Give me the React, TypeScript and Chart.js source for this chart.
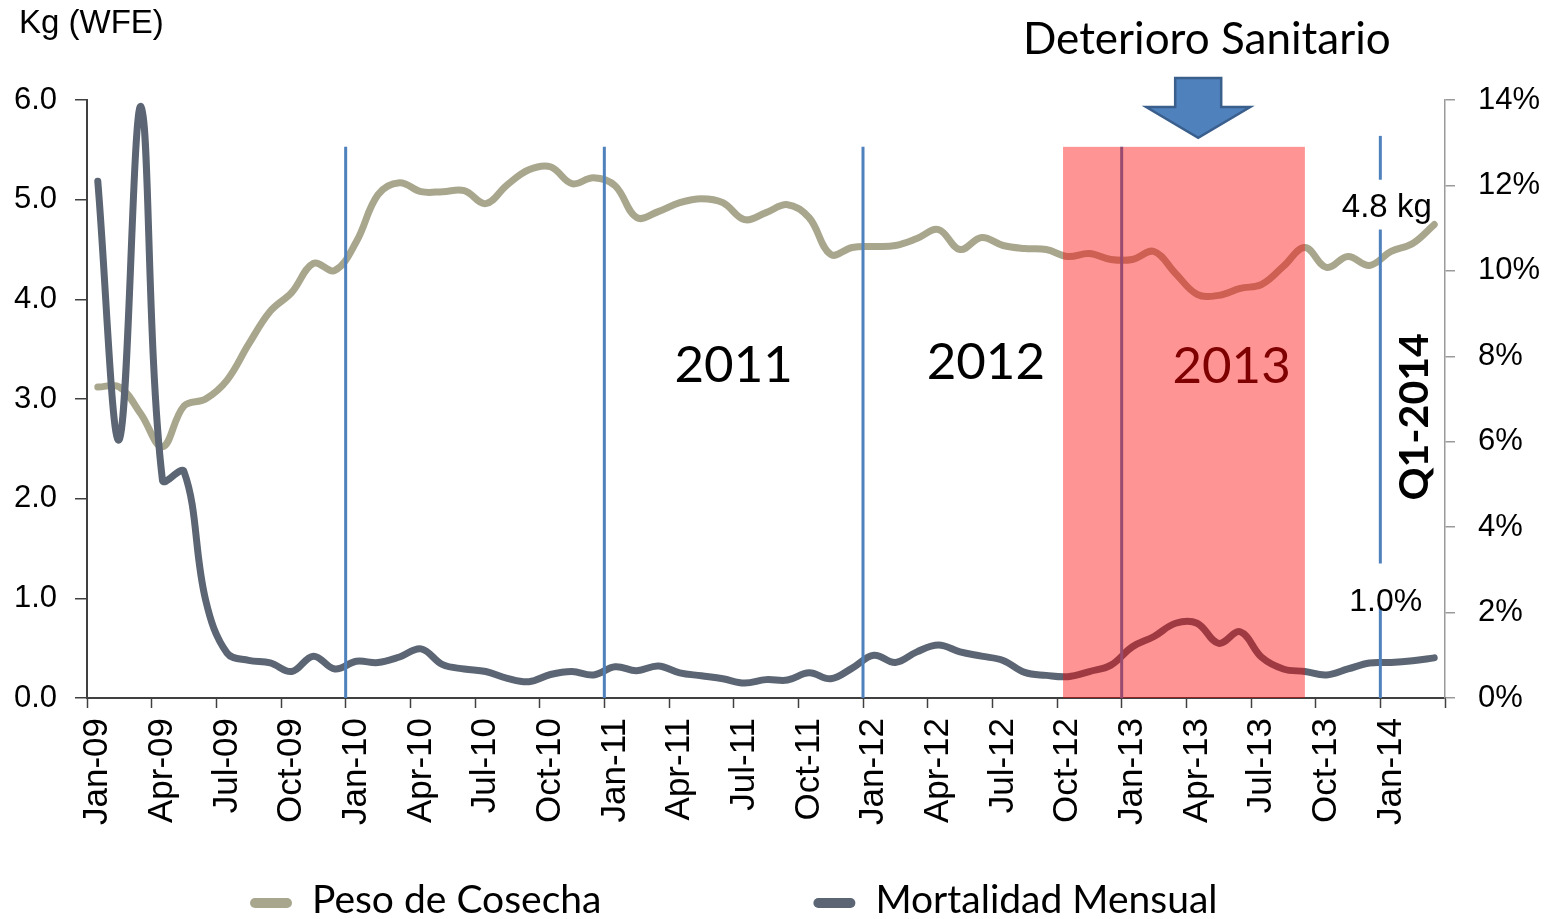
import React, { useEffect, useRef } from 'react';
import { Chart, registerables } from 'chart.js';

Chart.register(...registerables);

// ---------- data ----------
const months = [
  'Jan-09', 'Feb-09', 'Mar-09', 'Apr-09', 'May-09', 'Jun-09', 'Jul-09', 'Aug-09', 'Sep-09', 'Oct-09', 'Nov-09', 'Dec-09',
  'Jan-10', 'Feb-10', 'Mar-10', 'Apr-10', 'May-10', 'Jun-10', 'Jul-10', 'Aug-10', 'Sep-10', 'Oct-10', 'Nov-10', 'Dec-10',
  'Jan-11', 'Feb-11', 'Mar-11', 'Apr-11', 'May-11', 'Jun-11', 'Jul-11', 'Aug-11', 'Sep-11', 'Oct-11', 'Nov-11', 'Dec-11',
  'Jan-12', 'Feb-12', 'Mar-12', 'Apr-12', 'May-12', 'Jun-12', 'Jul-12', 'Aug-12', 'Sep-12', 'Oct-12', 'Nov-12', 'Dec-12',
  'Jan-13', 'Feb-13', 'Mar-13', 'Apr-13', 'May-13', 'Jun-13', 'Jul-13', 'Aug-13', 'Sep-13', 'Oct-13', 'Nov-13', 'Dec-13',
  'Jan-14', 'Feb-14', 'Mar-14',
];

// Peso de Cosecha, kg (WFE), left axis
const pesoCosecha = [
  3.12, 3.12, 2.85, 2.52, 2.93, 3.0, 3.19, 3.55, 3.88, 4.07,
  4.36, 4.29, 4.58, 5.05, 5.17, 5.08, 5.08, 5.09, 4.96, 5.15,
  5.3, 5.33, 5.16, 5.22, 5.14, 4.82, 4.88, 4.97, 5.01, 4.97,
  4.8, 4.87, 4.95, 4.82, 4.45, 4.52, 4.53, 4.54, 4.61, 4.7,
  4.5, 4.62, 4.54, 4.51, 4.5, 4.43, 4.46, 4.4, 4.4, 4.48,
  4.26, 4.05, 4.04, 4.11, 4.15, 4.33, 4.52, 4.32, 4.43, 4.34,
  4.48, 4.56, 4.75,
];

// Mortalidad Mensual, %, right axis
const mortalidadMensual = [
  12.1, 6.05, 13.85, 5.1, 5.3, 2.3, 1.05, 0.88, 0.82, 0.62,
  0.98, 0.68, 0.86, 0.83, 0.96, 1.15, 0.78, 0.68, 0.62, 0.46,
  0.38, 0.55, 0.62, 0.54, 0.73, 0.64, 0.75, 0.59, 0.52, 0.45,
  0.35, 0.43, 0.42, 0.59, 0.45, 0.7, 1.0, 0.83, 1.08, 1.24,
  1.08, 0.98, 0.88, 0.6, 0.53, 0.5, 0.62, 0.77, 1.2, 1.44,
  1.75, 1.75, 1.28, 1.55, 0.95, 0.68, 0.62, 0.54, 0.68, 0.82,
  0.83, 0.87, 0.94,
];

const leftTicks = [0, 1, 2, 3, 4, 5, 6];
const rightTicks = [0, 2, 4, 6, 8, 10, 12, 14];
const yearDividers = ['Jan-10', 'Jan-11', 'Jan-12', 'Jan-13'];
const q1Divider = 'Jan-14';
const yearLabels = ['2011', '2012', '2013'];
const seriesNames = ['Peso de Cosecha', 'Mortalidad Mensual'];
const lastPesoLabel = '4.8 kg';
const lastMortLabel = '1.0%';

// ---------- styles ----------
const TAN = '#A9A68E';
const DARK = '#5B6573';
const BLUE = '#4F81BD';
const ARIAL = '"Liberation Sans", Arial, sans-serif';
const CAL = 'Lato, "Open Sans", sans-serif';

export default function App() {
  const ref = useRef<HTMLCanvasElement>(null);

  useEffect(() => {
    const canvas = ref.current;
    if (!canvas) return;

    const overlay = {
      id: 'overlay',
      afterDatasetsDraw(chart: any) {
        const { ctx } = chart;
        const x = chart.scales.x;
        const y = chart.scales.y;
        const y1 = chart.scales.y1;
        const px = (v: number) => x.getPixelForValue(v);
        const bottom = y.getPixelForValue(0);
        const top = y.getPixelForValue(5.53);
        ctx.save();

        // year dividers
        ctx.strokeStyle = BLUE;
        ctx.lineWidth = 3;
        yearDividers.forEach((m) => {
          const xp = px(months.indexOf(m) - 0.5);
          ctx.beginPath();
          ctx.moveTo(xp, top);
          ctx.lineTo(xp, bottom);
          ctx.stroke();
        });
        // Q1-2014 divider (broken around its labels)
        const xq = px(months.indexOf(q1Divider) - 0.5);
        const segs: [number, number][] = [[5.64, 5.2], [4.7, 1.35], [0.92, 0]];
        segs.forEach(([a, b]) => {
          ctx.beginPath();
          ctx.moveTo(xq, y.getPixelForValue(a));
          ctx.lineTo(xq, y.getPixelForValue(b));
          ctx.stroke();
        });

        // "Deterioro Sanitario" shaded period
        ctx.fillStyle = 'rgba(255,0,0,0.42)';
        const l = px(44.78);
        const r = px(56.0);
        ctx.fillRect(l, top, r - l, bottom - top);

        // year labels
        ctx.textAlign = 'center';
        ctx.textBaseline = 'middle';
        ctx.font = `51px ${CAL}`;
        const yearPos: [number, number, string][] = [[29.5, 3.34, '#000'], [41.2, 3.37, '#000'], [52.6, 3.33, '#7F0000']];
        yearLabels.forEach((t, i) => {
          const [xv, yv, c] = yearPos[i];
          ctx.fillStyle = c;
          ctx.fillText(t, px(xv), y.getPixelForValue(yv));
        });

        // Q1-2014 rotated
        ctx.save();
        ctx.translate(px(61.1), y.getPixelForValue(2.82));
        ctx.rotate(-Math.PI / 2);
        ctx.font = `bold 41px ${CAL}`;
        ctx.fillStyle = '#000';
        ctx.fillText('Q1-2014', 0, 0);
        ctx.restore();

        // last-value labels
        ctx.fillStyle = '#000';
        ctx.font = `33px ${ARIAL}`;
        ctx.fillText(lastPesoLabel, px(59.8), y.getPixelForValue(4.92));
        ctx.font = `32px ${ARIAL}`;
        ctx.fillText(lastMortLabel, px(59.75), y1.getPixelForValue(2.25));
        ctx.restore();
      },
      afterDraw(chart: any) {
        const { ctx } = chart;
        const x = chart.scales.x;
        const y = chart.scales.y;
        ctx.save();

        // axis unit label
        ctx.font = `33px ${ARIAL}`;
        ctx.fillStyle = '#000';
        ctx.textAlign = 'left';
        ctx.textBaseline = 'middle';
        ctx.fillText('Kg (WFE)', 19, 24);

        // Deterioro Sanitario + arrow
        const ax = x.getPixelForValue(51.05);
        ctx.font = `44px ${CAL}`;
        ctx.textAlign = 'center';
        ctx.fillText('Deterioro Sanitario', x.getPixelForValue(51.45), 40);
        const sTop = y.getPixelForValue(6.22);
        const hTop = y.getPixelForValue(5.93);
        const tip = y.getPixelForValue(5.62);
        ctx.beginPath();
        ctx.moveTo(ax - 23, sTop);
        ctx.lineTo(ax + 23, sTop);
        ctx.lineTo(ax + 23, hTop);
        ctx.lineTo(ax + 52, hTop);
        ctx.lineTo(ax, tip);
        ctx.lineTo(ax - 52, hTop);
        ctx.lineTo(ax - 23, hTop);
        ctx.closePath();
        ctx.fillStyle = BLUE;
        ctx.fill();
        ctx.strokeStyle = '#3A5F8C';
        ctx.lineWidth = 2.5;
        ctx.stroke();

        // legend
        ctx.font = `39px ${CAL}`;
        ctx.textAlign = 'left';
        let lx = 250;
        const colors = [TAN, DARK];
        seriesNames.forEach((name, i) => {
          ctx.fillStyle = colors[i];
          ctx.beginPath();
          ctx.roundRect(lx, 898, 42, 10, 5);
          ctx.fill();
          ctx.fillStyle = '#000';
          ctx.fillText(name, lx + 62, 900);
          lx += 62 + ctx.measureText(name).width + 212;
        });
        ctx.restore();
      },
    };

    const chart = new Chart(canvas, {
      type: 'line',
      data: {
        labels: months,
        datasets: [
          {
            label: seriesNames[0],
            data: pesoCosecha,
            yAxisID: 'y',
            borderColor: TAN,
            backgroundColor: TAN,
            borderWidth: 7,
            pointRadius: 0,
            tension: 0.38,
            borderCapStyle: 'round',
            borderJoinStyle: 'round',
            order: 1,
          },
          {
            label: seriesNames[1],
            data: mortalidadMensual,
            yAxisID: 'y1',
            borderColor: DARK,
            backgroundColor: DARK,
            borderWidth: 7,
            pointRadius: 0,
            tension: 0.38,
            borderCapStyle: 'round',
            borderJoinStyle: 'round',
            order: 0,
          },
        ],
      },
      options: {
        responsive: false,
        animation: false,
        layout: { padding: { top: 100, left: 0, right: 0, bottom: 0 } },
        plugins: { legend: { display: false }, tooltip: { enabled: false } },
        scales: {
          x: {
            type: 'category',
            offset: true,
            grid: {
              display: true,
              drawOnChartArea: false,
              offset: true,
              tickLength: 10,
              tickWidth: 1.5,
              tickColor: (c: any) => (c.type !== 'tick' || c.index % 3 === 0 ? '#404040' : 'rgba(0,0,0,0)'),
            },
            border: { color: '#404040', width: 2 },
            ticks: {
              autoSkip: false,
              maxRotation: 90,
              minRotation: 90,
              padding: 10,
              color: '#000',
              font: { family: ARIAL, size: 35 },
              callback: (_v: any, i: number) => (i % 3 === 0 ? months[i] : ''),
            },
            afterFit: (s: any) => { s.height = 221; },
          },
          y: {
            position: 'left',
            min: leftTicks[0],
            max: leftTicks[leftTicks.length - 1],
            afterBuildTicks: (s: any) => { s.ticks = leftTicks.map((v) => ({ value: v })); },
            ticks: {
              padding: 18,
              color: '#000',
              font: { family: ARIAL, size: 31 },
              callback: (v: any) => Number(v).toFixed(1),
            },
            grid: { drawOnChartArea: false, tickLength: 12, color: '#404040', lineWidth: 1.5 },
            border: { color: '#404040', width: 2 },
            afterFit: (s: any) => { s.width = 87; },
          },
          y1: {
            position: 'right',
            min: rightTicks[0],
            max: rightTicks[rightTicks.length - 1],
            afterBuildTicks: (s: any) => { s.ticks = rightTicks.map((v) => ({ value: v })); },
            ticks: {
              padding: 23,
              color: '#000',
              font: { family: ARIAL, size: 31 },
              callback: (v: any) => `${v}%`,
            },
            grid: { drawOnChartArea: false, tickLength: 10, color: '#9A9A9A', lineWidth: 1.5 },
            border: { color: '#9A9A9A', width: 1.5 },
            afterFit: (s: any) => { s.width = 104; },
          },
        },
      },
      plugins: [overlay],
    } as any);

    return () => chart.destroy();
  }, []);

  return (
    <div style={{ position: 'fixed', left: 0, top: 0, width: 1549, height: 919, background: '#fff' }}>
      <canvas ref={ref} width={1549} height={919} style={{ display: 'block' }} />
    </div>
  );
}
